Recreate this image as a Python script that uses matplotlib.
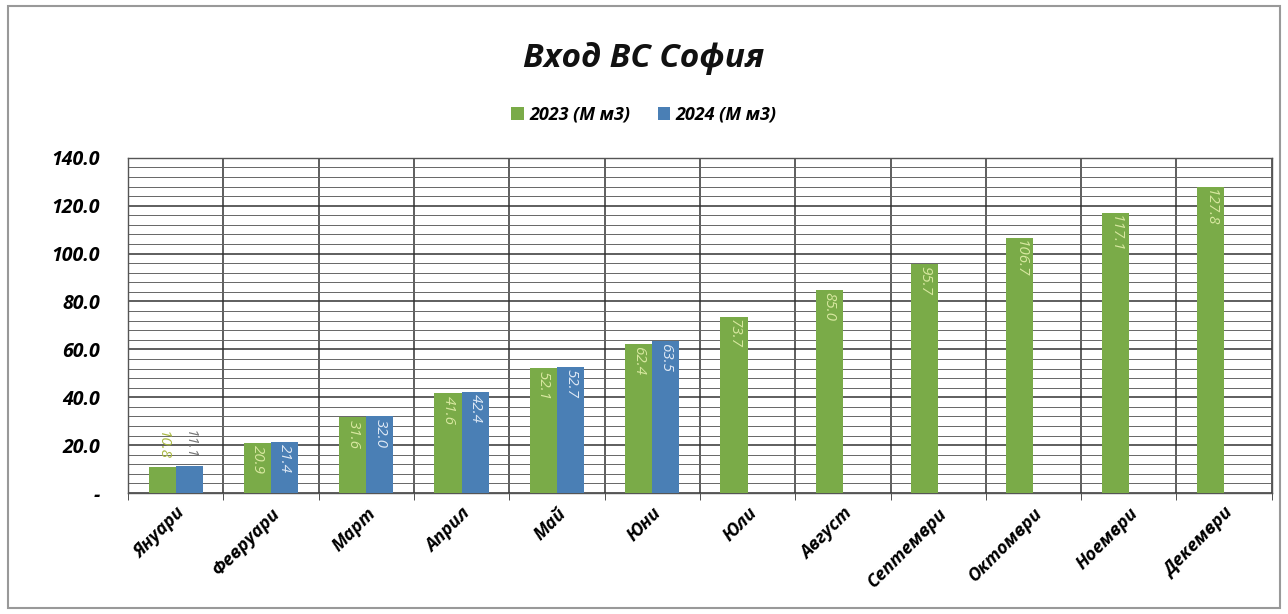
import matplotlib
matplotlib.use("Agg")
import matplotlib.pyplot as plt
import numpy as np
from matplotlib.patches import Rectangle

plt.rcParams["font.family"] = ["Open Sans", "DejaVu Sans"]

# data
months = ["Януари", "Февруари", "Март", "Април", "Май", "Юни",
          "Юли", "Август", "Септември", "Октомври", "Ноември", "Декември"]
vals_2023 = [10.8, 20.9, 31.6, 41.6, 52.1, 62.4, 73.7, 85.0, 95.7, 106.7, 117.1, 127.8]
vals_2024 = [11.1, 21.4, 32.0, 42.4, 52.7, 63.5]
label_2023 = "2023 (М м3)"
label_2024 = "2024 (М м3)"
title = "Вход ВС София"

green = "#7aab48"
blue = "#4a7fb5"

fig = plt.figure(figsize=(12.88, 6.14), dpi=100)
ax = fig.add_axes([0.0994, 0.197, 0.888, 0.546])

x = np.arange(len(months))
w = 0.285
b1 = ax.bar(x - w / 2, vals_2023, w, color=green, zorder=3, label=label_2023)
b2 = ax.bar(x[:len(vals_2024)] + w / 2, vals_2024, w, color=blue, zorder=3, label=label_2024)

# value labels, rotated, inside the bars
for bars, vals, col in [(b1, vals_2023, "#d8e8a0"), (b2, vals_2024, "#dfe9f5")]:
    for r, v in zip(bars, vals):
        cx = r.get_x() + r.get_width() / 2
        if v < 15:
            ax.text(cx, v + 3, f"{v:.1f}", rotation=-90, ha="center", va="bottom",
                    fontsize=11, style="italic", color="#a8b840" if col == "#d8e8a0" else "#777777", zorder=4)
        else:
            ax.text(cx, v - 1.0, f"{v:.1f}", rotation=-90, ha="center", va="top",
                    fontsize=11, style="italic", color=col, zorder=4)

ax.set_xlim(-0.5, len(months) - 0.5)
ax.set_ylim(0, 140)
ax.set_yticks(np.arange(0, 141, 20))
ax.set_yticklabels(["-"] + [f"{t:.1f}" for t in range(20, 141, 20)],
                   fontsize=14, fontweight="bold", style="italic")
ax.set_yticks(np.arange(0, 141, 4), minor=True)
ax.grid(axis="y", which="major", color="#333333", linewidth=1.1, zorder=0)
ax.grid(axis="y", which="minor", color="#666666", linewidth=0.7, zorder=0)
ax.tick_params(axis="y", which="both", length=0, pad=20)

# category separators
for b in np.arange(-0.5, len(months), 1.0):
    ax.axvline(b, color="#333333", linewidth=1.1, zorder=1)
ax.set_xticks(np.arange(-0.5, len(months), 1.0), minor=True)
ax.tick_params(axis="x", which="minor", length=5, color="#333333")
ax.set_xticks(x)
ax.set_xticklabels(months, rotation=45, ha="right", rotation_mode="anchor",
                   fontsize=13, fontweight="bold", style="italic")
ax.tick_params(axis="x", which="major", length=0, pad=8)

for s in ax.spines.values():
    s.set_color("#555555")
    s.set_linewidth(1.0)

fig.text(0.5, 0.905, title, ha="center", va="center",
         fontsize=24, fontweight="bold", style="italic", color="#111111")
fig.legend(handles=[b1, b2], loc="center", bbox_to_anchor=(0.5, 0.813), ncol=2,
           frameon=False, handlelength=0.7, handleheight=0.7, handletextpad=0.3,
           columnspacing=1.5, prop={"size": 13, "weight": "bold", "style": "italic"})

fig.add_artist(Rectangle((0.006, 0.01), 0.988, 0.98, transform=fig.transFigure,
                         fill=False, edgecolor="#999999", linewidth=1.5))

fig.savefig("out.png", dpi=100)
